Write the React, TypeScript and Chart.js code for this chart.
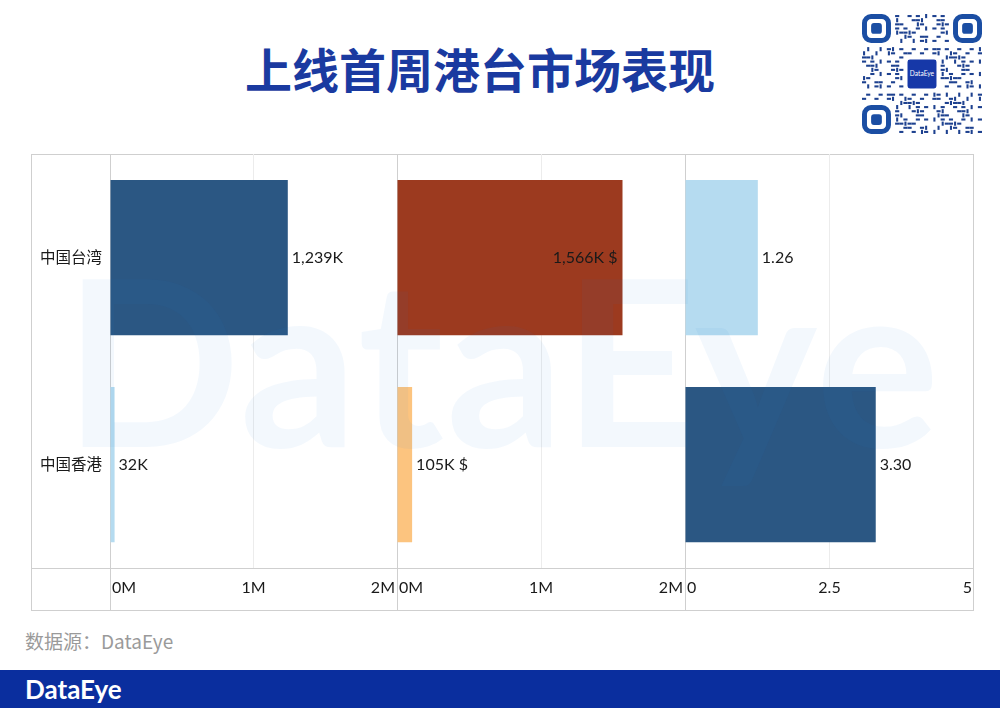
import React, { useEffect, useRef } from "react";
import { Chart, registerables } from "chart.js";

Chart.register(...registerables);

// ---------- data ----------
const categories = ["中国台湾", "中国香港"];
const downloads = [1239000, 32000];
const downloadLabels = ["1,239K", "32K"];
const revenue = [1566000, 105000];
const revenueLabels = ["1,566K $", "105K $"];
const ratio = [1.26, 3.3];
const ratioLabels = ["1.26", "3.30"];
const downloadColors = ["#2b5783", "#b5dbf0"];
const revenueColors = ["#9c3a1f", "#fcc47f"];
const ratioColors = ["#b5dbf0", "#2b5783"];
const millionTicks = [0, 1000000, 2000000];
const ratioTicks = [0, 2.5, 5];

const TEXT_FONT = "Lato, 'Open Sans', sans-serif";
const CJK_FONT = "'Noto Sans CJK SC', 'Noto Sans', sans-serif";

type Panel = {
  values: number[];
  labels: string[];
  colors: string[];
  ticks: number[];
  fmt: (v: number) => string;
  left: number;
  width: number;
  showY: boolean;
};

const fmtMillion = (v: number) => `${v / 1000000}M`;
const fmtPlain = (v: number) => `${v}`;
const THIN = "\u2009";

function PanelChart({ p }: { p: Panel }) {
  const ref = useRef<HTMLCanvasElement>(null);
  useEffect(() => {
    const framePlugin = {
      id: "frameLines",
      beforeDatasetsDraw(chart: any) {
        const { ctx, chartArea, scales } = chart;
        const x0 = Math.round(scales.x.getPixelForValue(scales.x.min)) + 0.5;
        const yb = Math.round(chartArea.bottom) + 0.5;
        ctx.save();
        ctx.strokeStyle = "#cfcfcf";
        ctx.lineWidth = 1;
        ctx.beginPath();
        ctx.moveTo(x0, 0);
        ctx.lineTo(x0, chart.height);
        ctx.moveTo(0, yb);
        ctx.lineTo(chart.width, yb);
        ctx.stroke();
        // category labels (row headers)
        if (p.showY) {
          ctx.font = `15.5px ${CJK_FONT}`;
          ctx.fillStyle = "#1a1a1a";
          ctx.textAlign = "right";
          ctx.textBaseline = "middle";
          categories.forEach((c, i) => {
            ctx.fillText(c, chartArea.left - 8, scales.y.getPixelForValue(i));
          });
        }
        ctx.restore();
      },
    };
    const textPlugin = {
      id: "barText",
      afterDatasetsDraw(chart: any) {
        const { ctx, chartArea } = chart;
        const meta = chart.getDatasetMeta(0);
        ctx.save();
        ctx.font = `16px ${TEXT_FONT}`;
        ctx.fillStyle = "#1a1a1a";
        ctx.textBaseline = "middle";
        meta.data.forEach((bar: any, i: number) => {
          const t = p.labels[i];
          const w = ctx.measureText(t).width;
          if (bar.x + 5 + w > chartArea.right - 2) {
            ctx.textAlign = "right";
            ctx.fillText(t, bar.x - 5, bar.y);
          } else {
            ctx.textAlign = "left";
            ctx.fillText(t, bar.x + 4, bar.y);
          }
        });
        ctx.restore();
      },
    };
    const last = p.ticks.length - 1;
    const chart = new Chart(ref.current!, {
      type: "bar",
      data: {
        labels: categories,
        datasets: [
          {
            data: p.values,
            backgroundColor: p.colors,
            borderWidth: 0,
            barPercentage: 0.75,
            categoryPercentage: 1,
          },
        ],
      },
      options: {
        indexAxis: "y",
        animation: false,
        responsive: false,
        maintainAspectRatio: false,
        layout: { padding: { left: p.showY ? 79 : 0, right: 0, top: 0, bottom: 0 } },
        plugins: {
          legend: { display: false },
          tooltip: { enabled: false },
          title: { display: false },
        },
        scales: {
          x: {
            type: "linear",
            position: "bottom",
            min: p.ticks[0],
            max: p.ticks[last],
            afterBuildTicks: (scale: any) => {
              scale.ticks = p.ticks.map((v) => ({ value: v }));
            },
            afterFit: (scale: any) => {
              scale.height = 42;
            },
            grid: {
              drawTicks: true,
              tickLength: 10,
              tickColor: "rgba(0,0,0,0)",
              color: (c: any) => (c.index > 0 && c.index < last ? "#ececec" : "rgba(0,0,0,0)"),
              lineWidth: 1,
            },
            border: { display: false },
            ticks: {
              align: "inner",
              padding: 0,
              maxRotation: 0,
              autoSkip: false,
              color: "#1a1a1a",
              font: { family: TEXT_FONT, size: 16 },
              callback: (v: any, i: number) => {
                const s = p.fmt(Number(v));
                if (i === 0) return THIN + s;
                if (i === last) return s + THIN;
                return s;
              },
            },
          },
          y: {
            type: "category",
            display: false,
            grid: { display: false },
            border: { display: false },
          },
        },
      },
      plugins: [framePlugin, textPlugin],
    } as any);
    return () => chart.destroy();
  }, []);
  return (
    <canvas
      ref={ref}
      width={p.width}
      height={456}
      style={{ position: "absolute", left: p.left, top: 154, width: p.width, height: 456 }}
    />
  );
}

function QRCode() {
  const n = 29;
  const cells: JSX.Element[] = [];
  const inFinder = (i: number, j: number) =>
    (i < 8 && j < 8) || (i < 8 && j > n - 9) || (i > n - 9 && j < 8) || (i >= 10 && i <= 18 && j >= 10 && j <= 18);
  for (let i = 0; i < n; i++) {
    for (let j = 0; j < n; j++) {
      if (inFinder(i, j)) continue;
      const h = (i * 31 + j * 17 + i * j * 7) % 11;
      if (h < 5) {
        const horiz = (i + j) % 3 !== 0;
        cells.push(
          <rect
            key={`${i}-${j}`}
            x={j + (horiz ? 0 : 0.25)}
            y={i + (horiz ? 0.25 : 0)}
            width={horiz ? 1 : 0.5}
            height={horiz ? 0.5 : 1}
            fill="#1d418f"
          />
        );
      }
    }
  }
  const finder = (x: number, y: number) => (
    <g key={`f${x}${y}`}>
      <rect x={x + 0.6} y={y + 0.6} width={5.8} height={5.8} rx={1.6} fill="none" stroke="#1b4ea3" strokeWidth={1.2} />
      <rect x={x + 2.2} y={y + 2.2} width={2.6} height={2.6} rx={0.7} fill="#1b4ea3" />
    </g>
  );
  return (
    <svg
      viewBox={`0 0 ${n} ${n}`}
      style={{ position: "absolute", left: 862, top: 12, width: 120, height: 124 }}
    >
      {cells}
      {finder(0, 0)}
      {finder(n - 7, 0)}
      {finder(0, n - 7)}
      <rect x={11} y={11} width={7} height={7} rx={0.6} fill="#1638a8" />
      <text x={14.5} y={15} fontSize={1.6} fill="#fff" textAnchor="middle" fontFamily={TEXT_FONT}>
        DataEye
      </text>
    </svg>
  );
}

export default function App() {
  const panels: Panel[] = [
    { values: downloads, labels: downloadLabels, colors: downloadColors, ticks: millionTicks, fmt: fmtMillion, left: 31, width: 366, showY: true },
    { values: revenue, labels: revenueLabels, colors: revenueColors, ticks: millionTicks, fmt: fmtMillion, left: 397, width: 288, showY: false },
    { values: ratio, labels: ratioLabels, colors: ratioColors, ticks: ratioTicks, fmt: fmtPlain, left: 685, width: 289, showY: false },
  ];
  return (
    <div
      style={{
        position: "absolute",
        left: 0,
        top: 0,
        width: 1000,
        height: 708,
        background: "#ffffff",
        overflow: "hidden",
      }}
    >
      <div
        style={{
          position: "absolute",
          left: 245,
          top: 42,
          fontFamily: CJK_FONT,
          fontWeight: 700,
          fontSize: 47,
          lineHeight: "52px",
          color: "#1a3aa0",
          whiteSpace: "nowrap",
        }}
      >
        上线首周港台市场表现
      </div>
      <QRCode />
      <div
        style={{
          position: "absolute",
          left: 31,
          top: 154,
          width: 943,
          height: 457,
          border: "1px solid #cfcfcf",
          boxSizing: "border-box",
        }}
      />
      {panels.map((p, i) => (
        <PanelChart key={i} p={p} />
      ))}
      <div
        style={{
          position: "absolute",
          left: 64,
          top: 241,
          fontFamily: TEXT_FONT,
          fontWeight: 700,
          fontSize: 232,
          lineHeight: 1,
          letterSpacing: 2,
          color: "rgba(40,130,220,0.055)",
          whiteSpace: "nowrap",
          pointerEvents: "none",
        }}
      >
        DataEye
      </div>
      <div
        style={{
          position: "absolute",
          left: 25,
          top: 628,
          fontFamily: CJK_FONT,
          fontSize: 19,
          lineHeight: "26px",
          color: "#9a9a9a",
          whiteSpace: "nowrap",
        }}
      >
        数据源：DataEye
      </div>
      <div
        style={{
          position: "absolute",
          left: 0,
          top: 670,
          width: 1000,
          height: 38,
          background: "#0a2e9e",
        }}
      >
        <div
          style={{
            position: "absolute",
            left: 25,
            top: 4,
            fontFamily: TEXT_FONT,
            fontWeight: 700,
            fontSize: 26,
            lineHeight: "30px",
            color: "#ffffff",
            whiteSpace: "nowrap",
          }}
        >
          DataEye
        </div>
      </div>
    </div>
  );
}
